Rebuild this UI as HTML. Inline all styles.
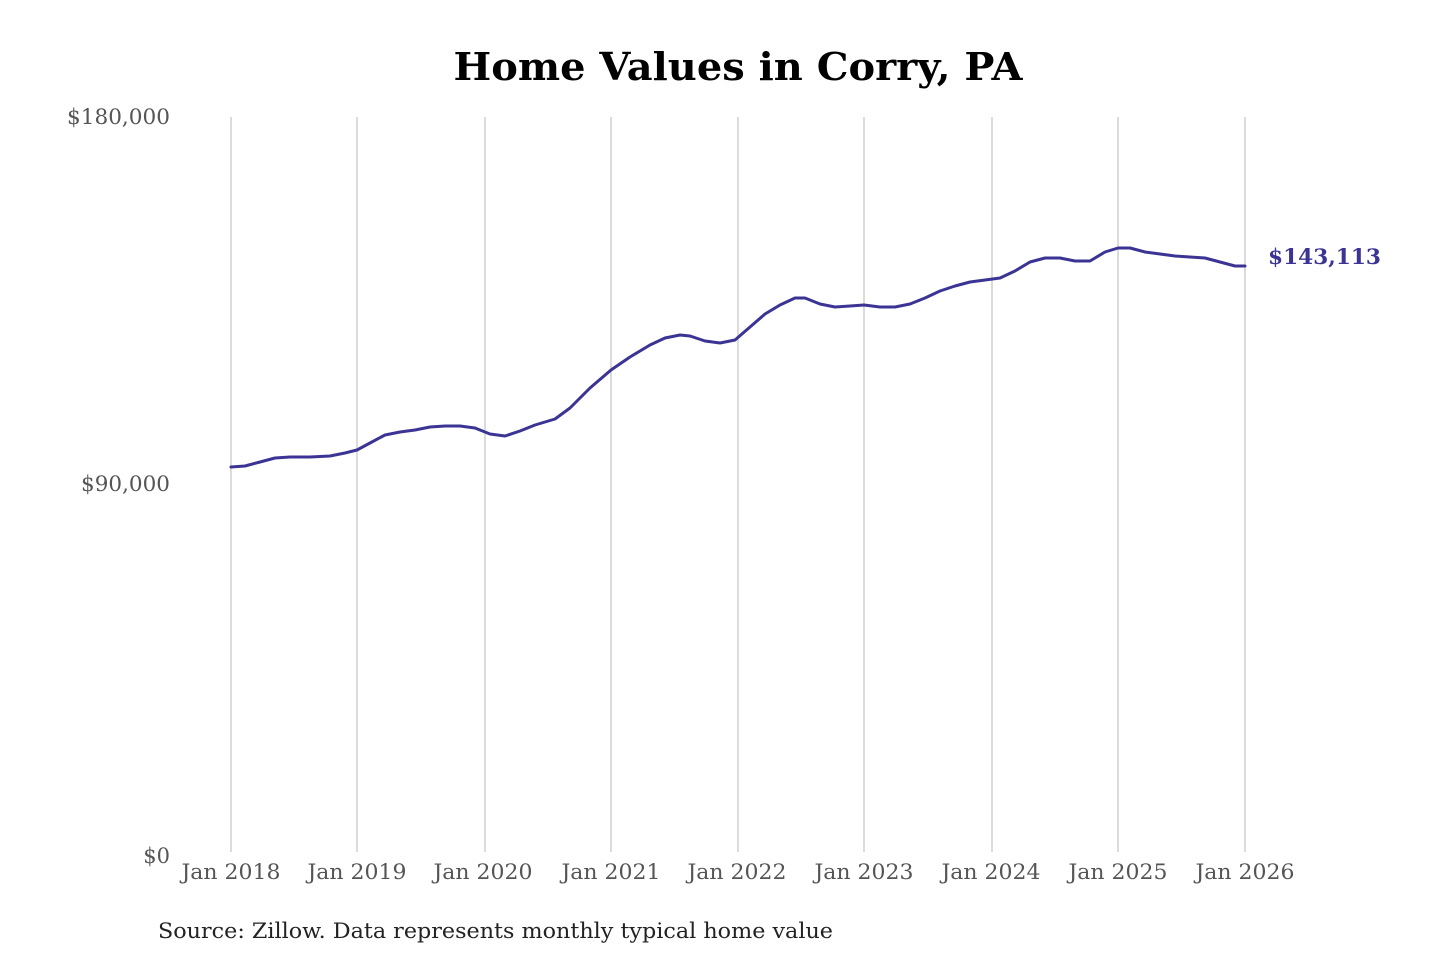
<!DOCTYPE html>
<html><head><meta charset="utf-8"><style>
html,body{margin:0;padding:0;background:#fff;width:1440px;height:960px;overflow:hidden}
</style></head><body>
<svg width="1440" height="960" viewBox="0 0 1440 960" xmlns="http://www.w3.org/2000/svg">
<text x="738" y="80" text-anchor="middle" font-family="DejaVu Serif, Liberation Serif, serif" font-weight="bold" font-size="38" fill="#000" textLength="569" lengthAdjust="spacingAndGlyphs">Home Values in Corry, PA</text>
<g stroke="#c8c8c8" stroke-width="1.3">
<line x1="231" y1="117" x2="231" y2="852"/><line x1="357" y1="117" x2="357" y2="852"/>
<line x1="485" y1="117" x2="485" y2="852"/><line x1="611" y1="117" x2="611" y2="852"/>
<line x1="738" y1="117" x2="738" y2="852"/><line x1="864" y1="117" x2="864" y2="852"/>
<line x1="992" y1="117" x2="992" y2="852"/><line x1="1118" y1="117" x2="1118" y2="852"/>
<line x1="1245" y1="117" x2="1245" y2="852"/>
</g>
<g font-family="DejaVu Serif, Liberation Serif, serif" font-size="21" fill="#555">
<text x="170" y="124" text-anchor="end" textLength="103" lengthAdjust="spacingAndGlyphs">$180,000</text>
<text x="170" y="491" text-anchor="end" textLength="89" lengthAdjust="spacingAndGlyphs">$90,000</text>
<text x="170" y="863" text-anchor="end">$0</text>
<g text-anchor="middle">
<text x="231" y="879" textLength="99" lengthAdjust="spacingAndGlyphs">Jan 2018</text><text x="357" y="879" textLength="99" lengthAdjust="spacingAndGlyphs">Jan 2019</text>
<text x="483" y="879" textLength="99" lengthAdjust="spacingAndGlyphs">Jan 2020</text><text x="611" y="879" textLength="99" lengthAdjust="spacingAndGlyphs">Jan 2021</text>
<text x="737" y="879" textLength="99" lengthAdjust="spacingAndGlyphs">Jan 2022</text><text x="864" y="879" textLength="99" lengthAdjust="spacingAndGlyphs">Jan 2023</text>
<text x="991" y="879" textLength="99" lengthAdjust="spacingAndGlyphs">Jan 2024</text><text x="1118" y="879" textLength="99" lengthAdjust="spacingAndGlyphs">Jan 2025</text>
<text x="1245" y="879" textLength="99" lengthAdjust="spacingAndGlyphs">Jan 2026</text>
</g></g>
<polyline fill="none" stroke="#3b3494" stroke-width="3" stroke-linejoin="round" stroke-linecap="round" points="231,467 245,466 260,462 275,458 290,457 310,457 330,456 345,453 357,450 370,443 385,435 400,432 415,430 430,427 445,426 460,426 475,428 490,434 505,436 520,431 535,425 555,419 570,408 590,388 611,370 630,357 650,345 665,338 680,335 690,336 705,341 720,343 735,340 750,327 765,314 780,305 795,298 805,298 820,304 835,307 850,306 864,305 880,307 895,307 910,304 925,298 940,291 955,286 970,282 985,280 1000,278 1015,271 1030,262 1045,258 1060,258 1075,261 1090,261 1105,252 1118,248 1130,248 1145,252 1160,254 1175,256 1190,257 1205,258 1220,262 1235,266 1245,266"/>
<text x="1268" y="264" font-family="DejaVu Serif, Liberation Serif, serif" font-weight="bold" font-size="21" fill="#3b3494" textLength="113" lengthAdjust="spacingAndGlyphs">$143,113</text>
<text x="158" y="938" font-family="DejaVu Serif, Liberation Serif, serif" font-size="21" fill="#222" textLength="675" lengthAdjust="spacingAndGlyphs">Source: Zillow. Data represents monthly typical home value</text>
</svg>
</body></html>
